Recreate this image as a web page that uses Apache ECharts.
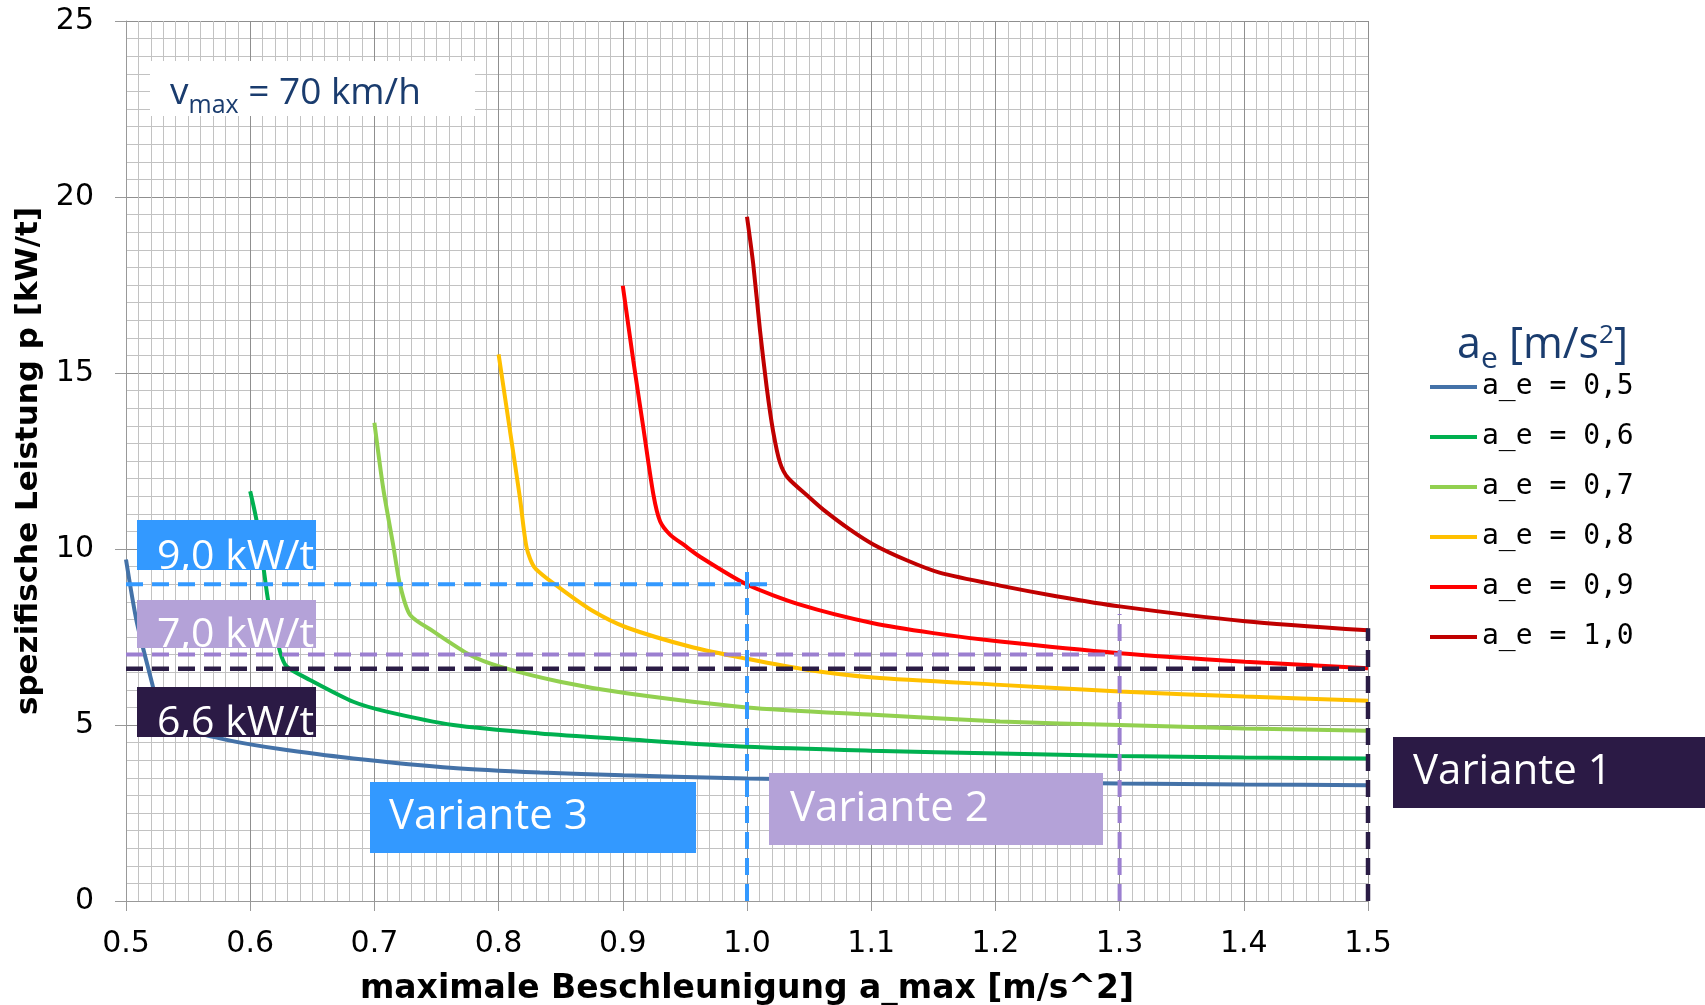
<!DOCTYPE html>
<html><head><meta charset="utf-8">
<script src="https://cdn.jsdelivr.net/npm/echarts@6/dist/echarts.min.js"></script>
<style>html,body{margin:0;padding:0;background:#fff}#c{width:1705px;height:1005px}</style>
</head><body><div id="c"></div>
<script>
// ---- data ----
const seriesNames = ['a_e = 0,5','a_e = 0,6','a_e = 0,7','a_e = 0,8','a_e = 0,9','a_e = 1,0'];
const seriesColors = ['#4472a8','#00b050','#92d050','#ffc000','#ff0000','#c00000'];
const ae05 = [[0.5,9.70],[0.5086,7.94],[0.522,6.04],[0.5258,5.45],[0.53,5.2],[0.545,4.9],[0.5757,4.62],[0.6,4.45],[0.6294,4.29],[0.683,4.05],[0.7635,3.78],[0.8333,3.65],[0.9,3.57],[1.0,3.48],[1.1,3.43],[1.2,3.38],[1.3,3.34],[1.4,3.31],[1.5,3.29]];
const ae06 = [[0.6,11.64],[0.6052,10.79],[0.6111,9.37],[0.6146,8.51],[0.624,7.09],[0.6294,6.66],[0.6481,6.28],[0.683,5.66],[0.7099,5.38],[0.7635,5.0],[0.8333,4.76],[0.9,4.6],[1.0,4.38],[1.1,4.27],[1.2037,4.19],[1.3,4.12],[1.4,4.08],[1.5,4.05]];
const ae07 = [[0.7,13.59],[0.7072,11.7],[0.7152,10.1],[0.7206,8.99],[0.7287,8.13],[0.7474,7.66],[0.777,6.99],[0.8011,6.66],[0.8494,6.23],[0.9031,5.90],[1.0,5.50],[1.1017,5.29],[1.2037,5.10],[1.3,5.0],[1.401,4.90],[1.5,4.84]];
const ae08 = [[0.8,15.53],[0.8092,13.35],[0.8172,11.45],[0.8226,10.03],[0.8293,9.46],[0.8494,8.89],[0.8763,8.23],[0.9031,7.77],[0.9568,7.2],[1.0,6.88],[1.048,6.57],[1.1017,6.35],[1.2037,6.14],[1.3,5.95],[1.401,5.81],[1.5,5.69]];
const ae09 = [[0.9,17.48],[0.9085,15.34],[0.9165,13.45],[0.9246,11.55],[0.930,10.79],[0.938,10.41],[0.9487,10.13],[0.9622,9.78],[1.0,8.99],[1.0427,8.42],[1.1017,7.89],[1.15,7.61],[1.2037,7.37],[1.3,7.04],[1.401,6.80],[1.5,6.61]];
const ae10 = [[1.0,19.44],[1.005,18.1],[1.0105,16.2],[1.0159,14.58],[1.021,13.35],[1.0266,12.45],[1.033,12.02],[1.0507,11.45],[1.0614,11.12],[1.083,10.55],[1.1017,10.13],[1.1286,9.68],[1.155,9.33],[1.2037,8.96],[1.249,8.66],[1.3,8.37],[1.401,7.95],[1.5,7.69]];
const curves = [ae05, ae06, ae07, ae08, ae09, ae10];

// reference (dashed) lines: Variante 3, 2, 1
const ref3H = [[0.5,9.0],[1.018,9.0]];
const ref3V = [[1.0,0],[1.0,9.48]];
const ref2H = [[0.5,7.0],[1.3,7.0]];
const ref2V = [[1.3,0],[1.3,8.15]];
const ref1H = [[0.5,6.6],[1.5,6.6]];
const ref1V = [[1.5,0],[1.5,7.75]];
const refColors = ['#3399ff','#9b7fd0','#2a1c45'];

const levelLabels = ['9,0 kW/t','7,0 kW/t','6,6 kW/t'];
const variantLabels = ['Variante 3','Variante 2','Variante 1'];
const boxColors = ['#3399ff','#b4a2d8','#2b1a45'];

// ---- chart ----
const NAVY = '#1a3c6e';
const chart = echarts.init(document.getElementById('c'), null, {renderer:'canvas'});

const series = curves.map((d,i)=>({
  name: seriesNames[i], type:'line', data:d, symbol:'none', showSymbol:false,
  smooth:0.25, color:seriesColors[i], lineStyle:{width:4,color:seriesColors[i]}, z:3, silent:true
}));
const refSets = [[ref3H,ref3V],[ref2H,ref2V],[ref1H,ref1V]];
refSets.forEach((pair,i)=>pair.forEach(d=>series.push({
  name:'ref'+i, type:'line', data:d, symbol:'none', silent:true, z:4,
  lineStyle:{width:i===2?4.5:4, color:refColors[i], type:[17,9]}
})));

function box(x,y,w,h,fill,text,tx,ty,size){
  return {type:'group', children:[
    {type:'rect', z:100, shape:{x:x,y:y,width:w,height:h}, style:{fill:fill}},
    {type:'text', z:101, x:tx, y:ty, style:{text:text, fill:'#fff', font:size+'px "Open Sans"', textAlign:'left', textVerticalAlign:'middle'}}
  ]};
}

const option = {
  animation:false,
  backgroundColor:'#fff',
  grid:{left:126, right:337, top:21, bottom:104, containLabel:false, outerBoundsMode:'none'},
  title:[
    {left:170, top:68, padding:0, z:10,
     text:'{b|v}{s|max}{b| = 70 km/h}',
     textStyle:{fontWeight:'normal', rich:{
       b:{fontSize:37, fontFamily:'Open Sans', fontWeight:'normal', color:NAVY, lineHeight:50},
       s:{fontSize:25, fontFamily:'Open Sans', fontWeight:'normal', color:NAVY, lineHeight:25, verticalAlign:'bottom'}
     }}},
    {left:1457, top:318, padding:0, z:10,
     text:'{b|a}{s|e}{b| [m/s}{p|2}{b|]}',
     textStyle:{fontWeight:'normal', rich:{
       b:{fontSize:43, fontFamily:'Open Sans', fontWeight:'normal', color:NAVY, lineHeight:56},
       s:{fontSize:30, fontFamily:'Open Sans', fontWeight:'normal', color:NAVY, lineHeight:28, verticalAlign:'bottom'},
       p:{fontSize:26, fontFamily:'Open Sans', fontWeight:'normal', color:NAVY, lineHeight:26, verticalAlign:'top', padding:[5,0,0,0]}
     }}}
  ],
  legend:{
    data:seriesNames, orient:'vertical', left:1430, top:372, padding:0,
    icon:'rect', itemWidth:47, itemHeight:4, itemGap:20,
    textStyle:{fontFamily:'DejaVu Sans Mono', fontSize:28, lineHeight:30, color:'#000'}
  },
  xAxis:{
    type:'value', min:0.5, max:1.5, interval:0.1,
    name:'maximale Beschleunigung a_max [m/s^2]', nameLocation:'middle', nameGap:72,
    nameTextStyle:{fontFamily:'DejaVu Sans', fontWeight:'bold', fontSize:33, color:'#000'},
    axisLine:{show:true, onZero:false, lineStyle:{color:'#999', width:1}},
    axisTick:{show:true, length:10, lineStyle:{color:'#999'}},
    axisLabel:{margin:28, fontFamily:'DejaVu Sans', fontSize:30, color:'#000', formatter:v=>v.toFixed(1)},
    splitLine:{show:true, lineStyle:{color:'#8f8f8f', width:1}},
    minorTick:{show:false, splitNumber:10},
    minorSplitLine:{show:true, lineStyle:{color:'#c2c2c2', width:1}}
  },
  yAxis:{
    type:'value', min:0, max:25, interval:5,
    name:'spezifische Leistung p [kW/t]', nameLocation:'middle', nameGap:78,
    nameTextStyle:{fontFamily:'DejaVu Sans', fontWeight:'bold', fontSize:31, color:'#000'},
    axisLine:{show:true, lineStyle:{color:'#999', width:1}},
    axisTick:{show:true, length:11, lineStyle:{color:'#999'}},
    axisLabel:{margin:32, fontFamily:'DejaVu Sans', fontSize:30, color:'#000'},
    splitLine:{show:true, lineStyle:{color:'#8f8f8f', width:1}},
    minorTick:{show:false, splitNumber:10},
    minorSplitLine:{show:true, lineStyle:{color:'#c2c2c2', width:1}}
  },
  graphic:[
    {type:'rect', z:5, shape:{x:150, y:61, width:325, height:55}, style:{fill:'#fff'}},
    box(137,520,179,50, boxColors[0], levelLabels[0], 157, 557, 41),
    box(137,600,179,48, boxColors[1], levelLabels[1], 157, 635, 41),
    box(137,687,179,50, boxColors[2], levelLabels[2], 157, 723, 41),
    box(370,782,326,71, boxColors[0], variantLabels[0], 389, 817, 42),
    box(769,773,334,72, boxColors[1], variantLabels[1], 790, 809, 42),
    box(1393,737,312,71, boxColors[2], variantLabels[2], 1413, 772, 42)
  ],
  series:series
};
chart.setOption(option);
</script></body></html>
